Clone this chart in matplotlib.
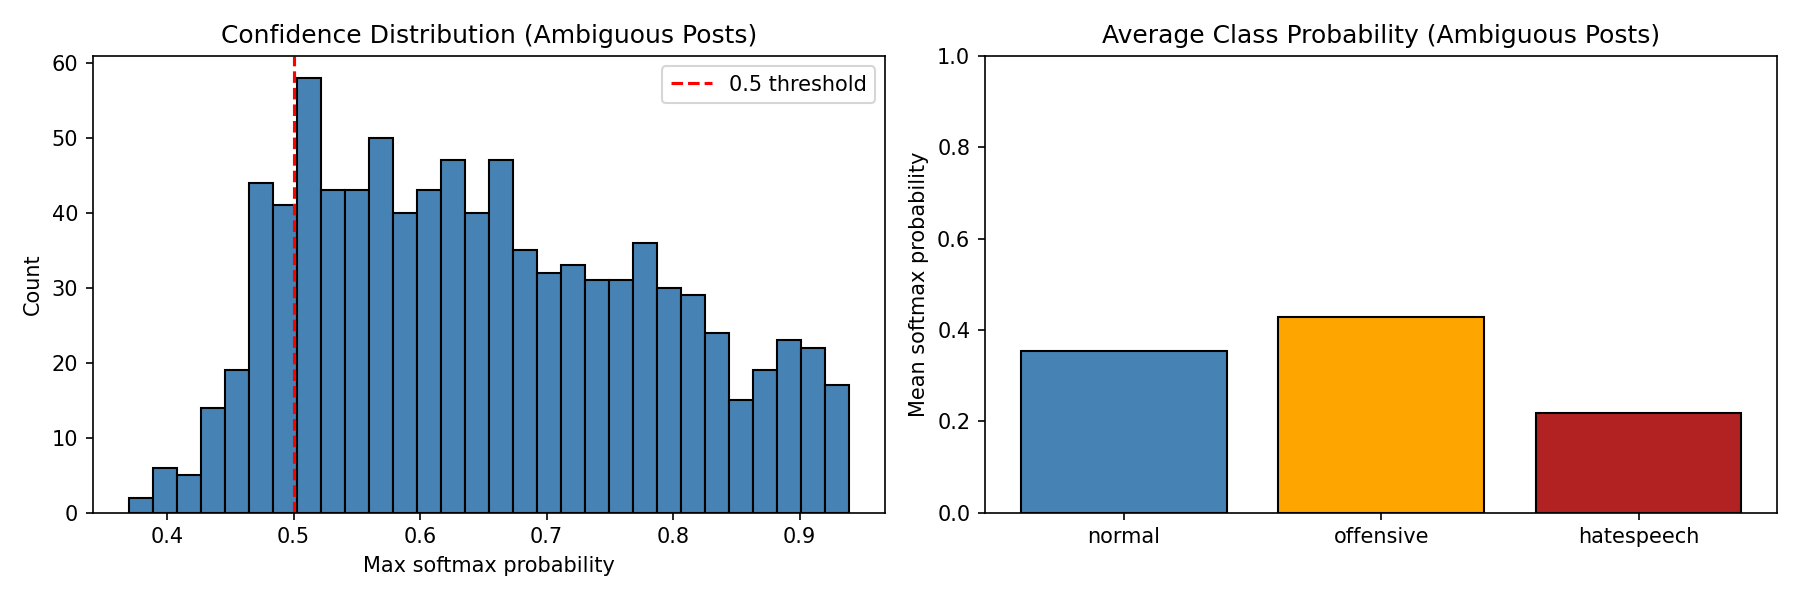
import numpy as np
import matplotlib.pyplot as plt

# histogram of max softmax probability (30 bins)
bin_start = 0.3698
bin_end = 0.9393
counts = [2, 6, 5, 14, 19, 44, 41, 58, 43, 43,
          50, 40, 43, 47, 40, 47, 35, 32, 33, 31,
          31, 36, 30, 29, 24, 15, 19, 23, 22, 17]

# average class probability
classes = ["normal", "offensive", "hatespeech"]
mean_probs = [0.354, 0.428, 0.218]
bar_colors = ["steelblue", "orange", "firebrick"]

edges = np.linspace(bin_start, bin_end, len(counts) + 1)
centers = (edges[:-1] + edges[1:]) / 2

fig, (ax1, ax2) = plt.subplots(1, 2, figsize=(12, 4))

ax1.hist(centers, bins=edges, weights=counts, color="steelblue", edgecolor="black")
ax1.axvline(0.5, color="red", linestyle="--", label="0.5 threshold")
ax1.set_title("Confidence Distribution (Ambiguous Posts)")
ax1.set_xlabel("Max softmax probability")
ax1.set_ylabel("Count")
ax1.legend()

ax2.bar(classes, mean_probs, color=bar_colors, edgecolor="black")
ax2.set_title("Average Class Probability (Ambiguous Posts)")
ax2.set_ylabel("Mean softmax probability")
ax2.set_ylim(0, 1)

plt.tight_layout()
plt.savefig("out.png", dpi=150)
